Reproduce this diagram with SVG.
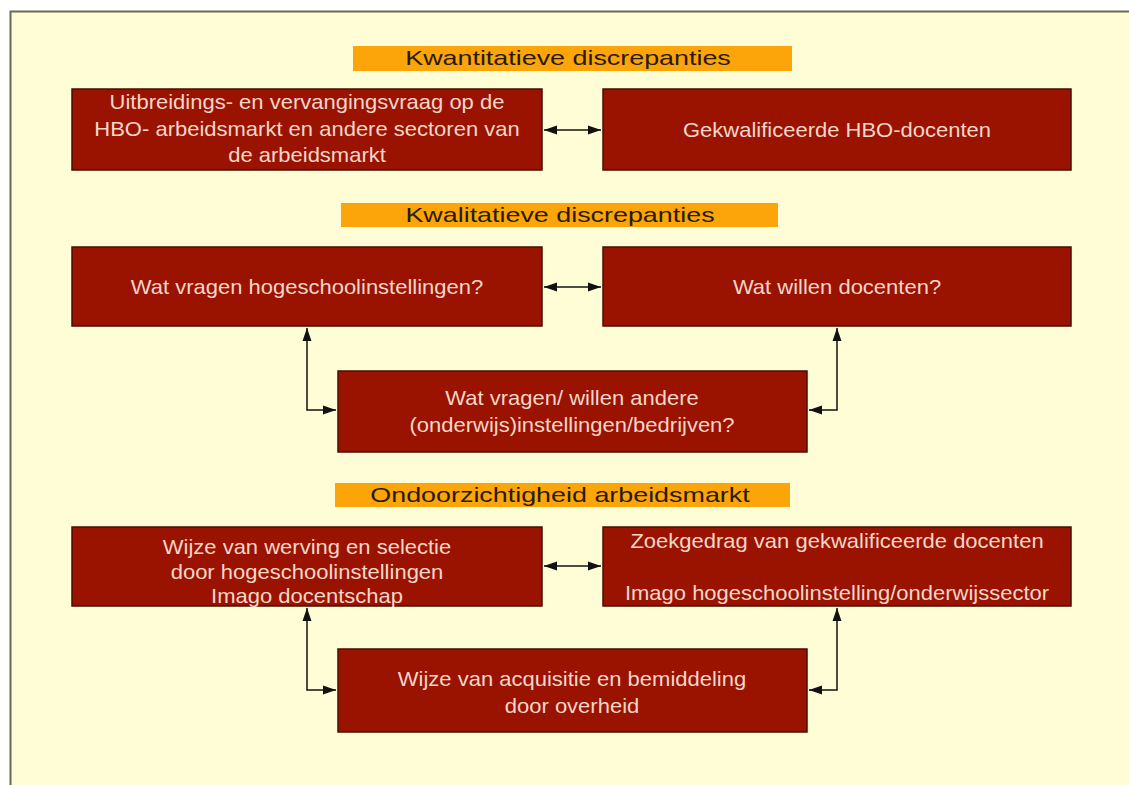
<svg xmlns="http://www.w3.org/2000/svg" width="1129" height="785" viewBox="0 0 1129 785">
  <defs>
    <marker id="ah" viewBox="0 0 13 10" refX="13" refY="5" markerWidth="13" markerHeight="10" markerUnits="userSpaceOnUse" orient="auto-start-reverse">
      <path d="M0,0.5 L13,5 L0,9.5 Z" fill="#111"/>
    </marker>
    <style>
      .box { fill: #9a1300; stroke: #4a0c02; stroke-width: 1.5; }
      .bt { font-family: "Liberation Sans", Arial, sans-serif; font-size: 20px; fill: #f5d6ca; text-anchor: middle; }
      .band { fill: #fba50a; }
      .ht { font-family: "Liberation Sans", Arial, sans-serif; font-size: 21px; fill: #2a1a08; text-anchor: middle; }
      .cn { fill: none; stroke: #111; stroke-width: 1.5; marker-start: url(#ah); marker-end: url(#ah); }
    </style>
  </defs>

  <!-- page -->
  <rect x="0" y="0" width="1129" height="785" fill="#ffffff"/>
  <rect x="10" y="11" width="1125" height="780" fill="#fefdd6"/>
  <path d="M10.5,785 V11.5 H1129" fill="none" stroke="#6a6a56" stroke-width="2"/>

  <!-- section headings -->
  <g id="head-kwantitatief">
    <rect class="band" x="353" y="46" width="439" height="25"/>
    <text class="ht" transform="translate(568,65) scale(1.28,1)">Kwantitatieve discrepanties</text>
  </g>
  <g id="head-kwalitatief">
    <rect class="band" x="341" y="203" width="437" height="24"/>
    <text class="ht" transform="translate(560,222) scale(1.28,1)">Kwalitatieve discrepanties</text>
  </g>
  <g id="head-ondoorzichtig">
    <rect class="band" x="335" y="483" width="455" height="24"/>
    <text class="ht" transform="translate(560,502) scale(1.28,1)">Ondoorzichtigheid arbeidsmarkt</text>
  </g>

  <!-- nodes -->
  <g id="vraag">
    <rect class="box" x="72" y="89" width="470" height="81"/>
    <text class="bt" transform="translate(307,109) scale(1.1,1)">Uitbreidings- en vervangingsvraag op de</text>
    <text class="bt" transform="translate(307,136) scale(1.1,1)">HBO- arbeidsmarkt en andere sectoren van</text>
    <text class="bt" transform="translate(307,162) scale(1.1,1)">de arbeidsmarkt</text>
  </g>
  <g id="docenten">
    <rect class="box" x="603" y="89" width="468" height="81"/>
    <text class="bt" transform="translate(837,137) scale(1.1,1)">Gekwalificeerde HBO-docenten</text>
  </g>
  <g id="hogescholen">
    <rect class="box" x="72" y="247" width="470" height="79"/>
    <text class="bt" transform="translate(307,294) scale(1.1,1)">Wat vragen hogeschoolinstellingen?</text>
  </g>
  <g id="willen">
    <rect class="box" x="603" y="247" width="468" height="79"/>
    <text class="bt" transform="translate(837,294) scale(1.1,1)">Wat willen docenten?</text>
  </g>
  <g id="andere">
    <rect class="box" x="338" y="371" width="469" height="81"/>
    <text class="bt" transform="translate(572,405) scale(1.1,1)">Wat vragen/ willen andere</text>
    <text class="bt" transform="translate(572,432) scale(1.1,1)">(onderwijs)instellingen/bedrijven?</text>
  </g>
  <g id="werving">
    <rect class="box" x="72" y="527" width="470" height="79"/>
    <text class="bt" transform="translate(307,554) scale(1.1,1)">Wijze van werving en selectie</text>
    <text class="bt" transform="translate(307,579) scale(1.1,1)">door hogeschoolinstellingen</text>
    <text class="bt" transform="translate(307,603) scale(1.1,1)">Imago docentschap</text>
  </g>
  <g id="zoekgedrag">
    <rect class="box" x="603" y="527" width="468" height="79"/>
    <text class="bt" transform="translate(837,548) scale(1.1,1)">Zoekgedrag van gekwalificeerde docenten</text>
    <text class="bt" transform="translate(837,600) scale(1.1,1)">Imago hogeschoolinstelling/onderwijssector</text>
  </g>
  <g id="acquisitie">
    <rect class="box" x="338" y="649" width="469" height="83"/>
    <text class="bt" transform="translate(572,686) scale(1.1,1)">Wijze van acquisitie en bemiddeling</text>
    <text class="bt" transform="translate(572,713) scale(1.1,1)">door overheid</text>
  </g>

  <!-- connectors -->
  <g id="connectors">
    <path class="cn" d="M544,130 H601"/>
    <path class="cn" d="M544,287 H601"/>
    <path class="cn" d="M544,566 H601"/>
    <path class="cn" d="M307,328 V410 H336"/>
    <path class="cn" d="M837,328 V410 H809"/>
    <path class="cn" d="M307,608 V690 H336"/>
    <path class="cn" d="M837,608 V690 H809"/>
  </g>
</svg>
